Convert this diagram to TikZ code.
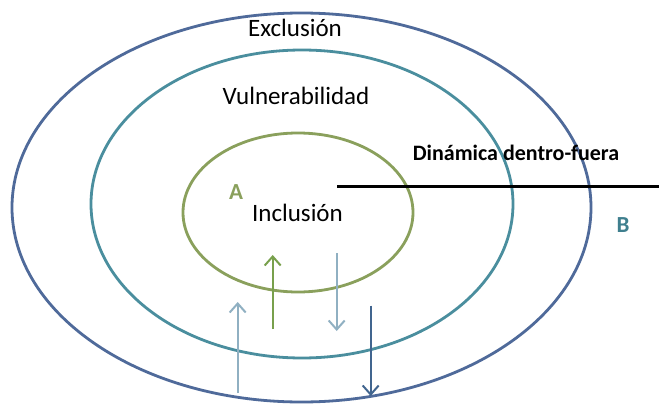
\documentclass[tikz,border=0pt]{standalone}
\usepackage{fontspec}
\setmainfont{Carlito}
\usetikzlibrary{arrows.meta}
\definecolor{outerc}{HTML}{4F6A9A}
\definecolor{midc}{HTML}{4A8E9E}
\definecolor{innerc}{HTML}{8AA05C}
\definecolor{lightar}{HTML}{90B0C2}
\definecolor{greenar}{HTML}{78A04C}
\definecolor{darkar}{HTML}{41658F}
\definecolor{bcol}{HTML}{3F7F8E}
\tikzset{
  ring/.style={line width=2.8pt},
  flow/.style={line width=2pt,-{Straight Barb[length=9pt,width=16pt,line width=2pt]}},
  lbl/.style={inner sep=0pt,font=\fontsize{25}{28}\selectfont},
}
\begin{document}
\begin{tikzpicture}[x=1pt,y=-1pt]
\useasboundingbox (0,0) rectangle (659,407);
\fill[white] (0,0) rectangle (659,407);
\draw[ring,outerc] (301.5,207.5) ellipse [x radius=289.5,y radius=194.5];
\draw[ring,midc] (302,204) ellipse [x radius=211,y radius=154];
\draw[ring,innerc] (298,212.5) ellipse [x radius=115,y radius=79.5];
% line
\coordinate (l1) at (337,186.5);
\coordinate (l2) at (659,186.5);
\draw[line width=2.6pt,black] (l1) -- (l2);
% texts
\node[lbl] (excl) at (295,28) {Exclusión};
\node[lbl] (vuln) at (296,96) {Vulnerabilidad};
\node[lbl] (incl) at (297.5,213) {Inclusión};
\node[inner sep=0pt,font=\fontsize{23}{26}\selectfont\bfseries,text=innerc] (A) at (236,192) {A};
\node[inner sep=0pt,font=\fontsize{23}{26}\selectfont\bfseries,text=bcol] (B) at (623,225) {B};
\node[inner sep=0pt,font=\fontsize{22}{26}\selectfont\bfseries] (din) at (516,153) {Dinámica dentro-fuera};
% arrows
\coordinate (a1s) at (237.7,393); \coordinate (a1e) at (237.7,302);
\coordinate (a2s) at (272.7,329); \coordinate (a2e) at (272.7,255);
\coordinate (a3s) at (336.7,253); \coordinate (a3e) at (336.7,331);
\coordinate (a4s) at (370.7,305.5); \coordinate (a4e) at (370.7,396);
\draw[flow,lightar] (a1s) -- (a1e);
\draw[flow,greenar] (a2s) -- (a2e);
\draw[flow,lightar] (a3s) -- (a3e);
\draw[flow,darkar] (a4s) -- (a4e);
\end{tikzpicture}
\end{document}
